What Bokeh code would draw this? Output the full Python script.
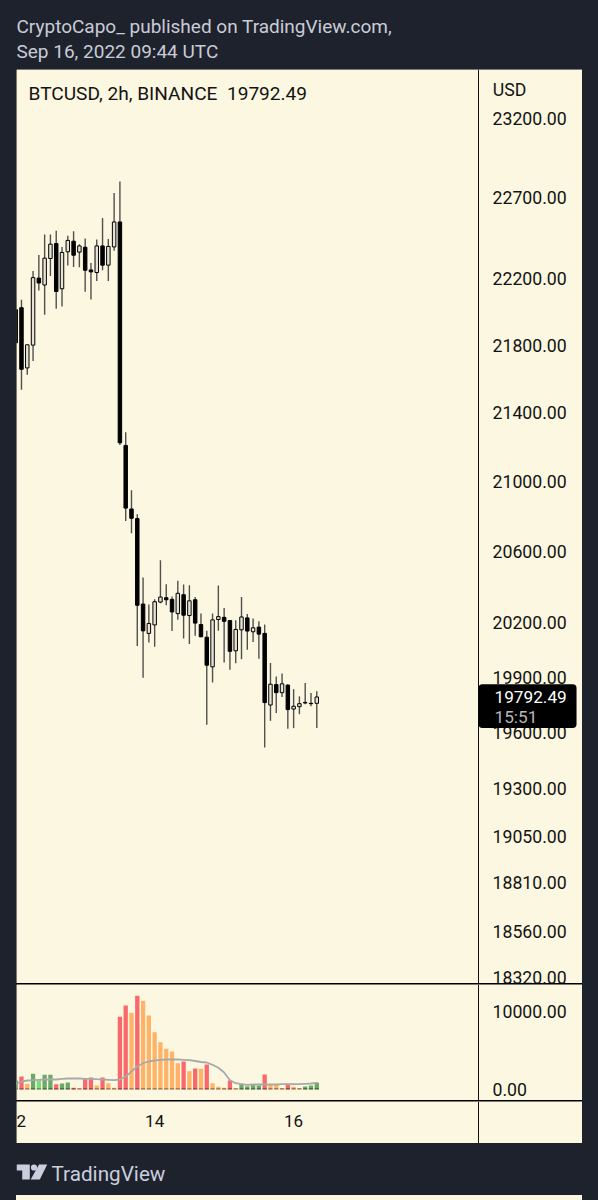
from bokeh.plotting import figure
from bokeh.layouts import column
from bokeh.models import (Range1d, FixedTicker, NumeralTickFormatter, BoxAnnotation, Label, ColumnDataSource)
from bokeh.embed import file_html
from bokeh.resources import INLINE
from bokeh.core.properties import value

# ---------- data ----------
bar_index = list(range(53))
high = [22069,22073,21802,22249,22347,22473,22473,22495,22396,22464,22493,22413,22448,22298,22442,22575,22444,22730,22802,
        21285,20948,20811,20452,20302,20331,20550,20414,20346,20435,20413,20409,20343,20252,20155,20252,20407,20282,20212,
        20214,20343,20249,20223,20209,20190,19978,19904,19920,19862,19835,19796,19868,19814,19824]
low = [21650,21535,21623,21706,22130,21983,22218,22019,22033,22282,22273,22271,22122,22075,22187,22253,22187,22372,21210,
       20773,20702,20071,19897,20091,20067,20308,20298,20154,20216,20113,20082,20128,20122,19642,19871,20155,19981,19941,
       19976,19999,20051,20093,20001,19520,19663,19706,19792,19620,19624,19699,19753,19742,19624]
open_ = [22013,22025,21664,21800,22205,22163,22325,22417,22140,22366,22431,22364,22394,22255,22239,22402,22284,22396,22550,
         21208,20841,20786,20304,20141,20188,20315,20339,20330,20251,20356,20240,20328,20190,20120,19957,20218,20230,20212,
         20045,20161,20227,20150,20176,20141,19749,19860,19816,19857,19727,19740,19763,19758,19758]
close = [21814,21656,21802,22208,22175,22327,22413,22124,22362,22436,22345,22402,22253,22243,22402,22284,22399,22550,21223,
         20846,20788,20297,20155,20196,20317,20343,20328,20260,20364,20242,20322,20198,20122,19966,20216,20234,20208,20042,
         20163,20232,20154,20172,20137,19762,19862,19816,19864,19724,19742,19756,19760,19756,19792.49]

volume = [1154,1667,731,2013,1154,1885,1885,680,769,897,218,167,1410,1538,513,1538,808,218,9320,10769,9833,12012,11371,9487,
          7346,6064,5218,4872,3372,3590,2346,2692,2654,3205,808,346,218,1154,167,731,423,680,513,1923,603,603,167,731,346,167,
          385,513,897]
volume_kind = ["g","r","o","g","l","g","g","r","g","g","r","o","r","r","o","r","o","o","r","r","o","r","o","o",
               "o","o","o","o","o","r","o","r","o","r","o","o","o","r","o","g","g","g","g","r","o","o","o","r","o","o",
               "g","g","g"]
volume_ma = [731,1026,1154,1192,1244,1282,1282,1282,1372,1410,1410,1410,1372,1372,1320,1282,1244,1192,1282,1667,2308,2949,
             3372,3590,3718,3808,3846,3846,3846,3808,3756,3654,3526,3462,3167,2782,2179,1192,808,680,603,641,641,641,641,641,
             680,680,680,680,731,769,859]
volume_floor = 170

price_ticks = [23200,22700,22200,21800,21400,21000,20600,20200,19900,19600,19300,19050,18810,18560,18320]
volume_ticks = [0,10000]
time_ticks = [0.8,24,48]
time_labels = ["2","14","16"]
last_price = 19792.49
countdown = "15:51"

header_lines = ["CryptoCapo_ published on TradingView.com,", "Sep 16, 2022 09:44 UTC"]
title_text = "BTCUSD, 2h, BINANCE\u00a0\u00a019792.49"

# ---------- style ----------
CREAM = "#fcf7e0"
DARK = "#1e222d"
INK = "#131313"
FONT = "Roboto"
KIND_COLORS = {"g": "#6aa96a", "l": "#78e070", "r": "#f9686a", "o": "#ffb366"}
x_range = (0.14, 97.89)
scale_x = 79.93
W = 566


def base_fig(h, fill, **kw):
    p = figure(width=W, height=h, frame_width=W, frame_height=h, output_backend="svg", toolbar_location=None,
               min_border_left=0, min_border_top=0, min_border_bottom=0, min_border_right=0,
               background_fill_color=fill, border_fill_color=fill, **kw)
    p.grid.visible = False
    p.outline_line_color = None
    return p


def style_right_axis(ax, ticks):
    ax.fixed_location = scale_x
    ax.ticker = FixedTicker(ticks=ticks)
    ax.formatter = NumeralTickFormatter(format="0.00")
    ax.major_tick_line_color = None
    ax.minor_tick_line_color = None
    ax.axis_line_color = "#111111"
    ax.axis_line_width = 1
    ax.major_label_standoff = 8
    ax.major_label_text_font = FONT
    ax.major_label_text_font_size = "17.7px"
    ax.major_label_text_color = INK


# ---------- header ----------
head = base_fig(69, DARK, x_range=(0, W), y_range=(69, 0), x_axis_location=None, y_axis_location=None)
head.text(x=[0, 0], y=[26, 51], text=header_lines, text_color="#c9ccd6", text_font=value(FONT),
          text_font_size="19px", text_baseline="middle")

# ---------- price panel ----------
price = base_fig(914, CREAM, y_axis_type="log", y_axis_location="right", x_axis_location=None,
                 x_range=x_range, y_range=Range1d(18295, 23514))
style_right_axis(price.yaxis[0], price_ticks)

src = ColumnDataSource(dict(
    x=bar_index, high=high, low=low, open=open_, close=close,
    fill=["#e6e2d6" if c >= o else "#000000" for o, c in zip(open_, close)],
))
price.segment(x0="x", x1="x", y0="low", y1="high", source=src, line_color="#505050", line_width=1.4)
price.vbar(x="x", width=0.6, bottom="open", top="close", source=src, fill_color="fill", line_color="#000000", line_width=1)

price.add_layout(BoxAnnotation(left=scale_x, right=96.86, top=19862, bottom=19624, fill_color="#000000", fill_alpha=1,
                               line_color=None, border_radius=4))
price.add_layout(Label(x=82.7, y=last_price, text=f"{last_price:.2f}", text_color="#ffffff", text_font=FONT,
                       text_font_size="17.2px", text_baseline="middle"))
price.add_layout(Label(x=82.7, y=19683, text=countdown, text_color="#b8b8b8", text_font=FONT,
                       text_font_size="17.2px", text_baseline="middle"))
price.add_layout(Label(x=2.21, y=23360, text=title_text, text_color=INK, text_font=FONT,
                       text_font_size="19.1px", text_baseline="middle"))
price.add_layout(Label(x=82.4, y=23385, text="USD", text_color=INK, text_font=FONT,
                       text_font_size="17.7px", text_baseline="middle"))

# ---------- volume panel ----------
vol = base_fig(116, CREAM, y_axis_location="right", x_axis_location=None, x_range=x_range, y_range=Range1d(-1410, 13461))
style_right_axis(vol.yaxis[0], volume_ticks)
vol.vbar(x=bar_index, width=0.74, bottom=0, top=volume, line_color=None,
         fill_color=[KIND_COLORS[k] for k in volume_kind])
vol.vbar(x=bar_index, width=0.74, bottom=0, top=volume_floor, line_color=None, fill_color="#000000", fill_alpha=0.4)
vol.line(bar_index, volume_ma, line_color="#a9a9a9", line_width=1.8)

# ---------- time panel ----------
tm = base_fig(42, CREAM, y_axis_location="right", x_range=x_range, y_range=Range1d(0, 1))
yax = tm.yaxis[0]
yax.fixed_location = scale_x
yax.major_label_text_color = None
yax.major_tick_line_color = None
yax.minor_tick_line_color = None
yax.axis_line_color = "#111111"
ax = tm.xaxis[0]
ax.fixed_location = 1
ax.ticker = FixedTicker(ticks=time_ticks)
ax.major_label_overrides = dict(zip(time_ticks, time_labels))
ax.major_tick_line_color = None
ax.minor_tick_line_color = None
ax.axis_line_color = None
ax.major_label_standoff = 7
ax.major_label_text_font = FONT
ax.major_label_text_font_size = "17px"
ax.major_label_text_color = INK

# ---------- footer ----------
foot = base_fig(52, DARK, x_range=(0, W), y_range=(52, 0), x_axis_location=None, y_axis_location=None)
LOGO = "#c9cfdf"
foot.patch(x=[0, 13.3, 13.3, 5.7, 5.7, 0], y=[21, 21, 36, 36, 27, 27], fill_color=LOGO, line_color=None)
foot.circle(x=[17.5], y=[24], radius=3.1, fill_color=LOGO, line_color=None)
foot.patch(x=[22.5, 30.7, 23.3, 14.2], y=[21, 21, 36, 36], fill_color=LOGO, line_color=None)
foot.text(x=[35], y=[30], text=["TradingView"], text_color=LOGO, text_font=value(FONT),
          text_font_size="20.7px", text_baseline="middle")

panels = column(price, vol, tm, spacing=1, styles={"background-color": "#000000"})
page = column(head, panels, foot, spacing=0, margin=(0, 0, 0, 16))

html = file_html(page, INLINE)
css = ("<style>html,body{margin:0;background:linear-gradient(%s,%s) no-repeat 16px 1195px / 566px 5px,%s;}</style></head>"
       % (CREAM, CREAM, DARK))
html = html.replace("</head>", css, 1)
open("out.html", "w").write(html)
